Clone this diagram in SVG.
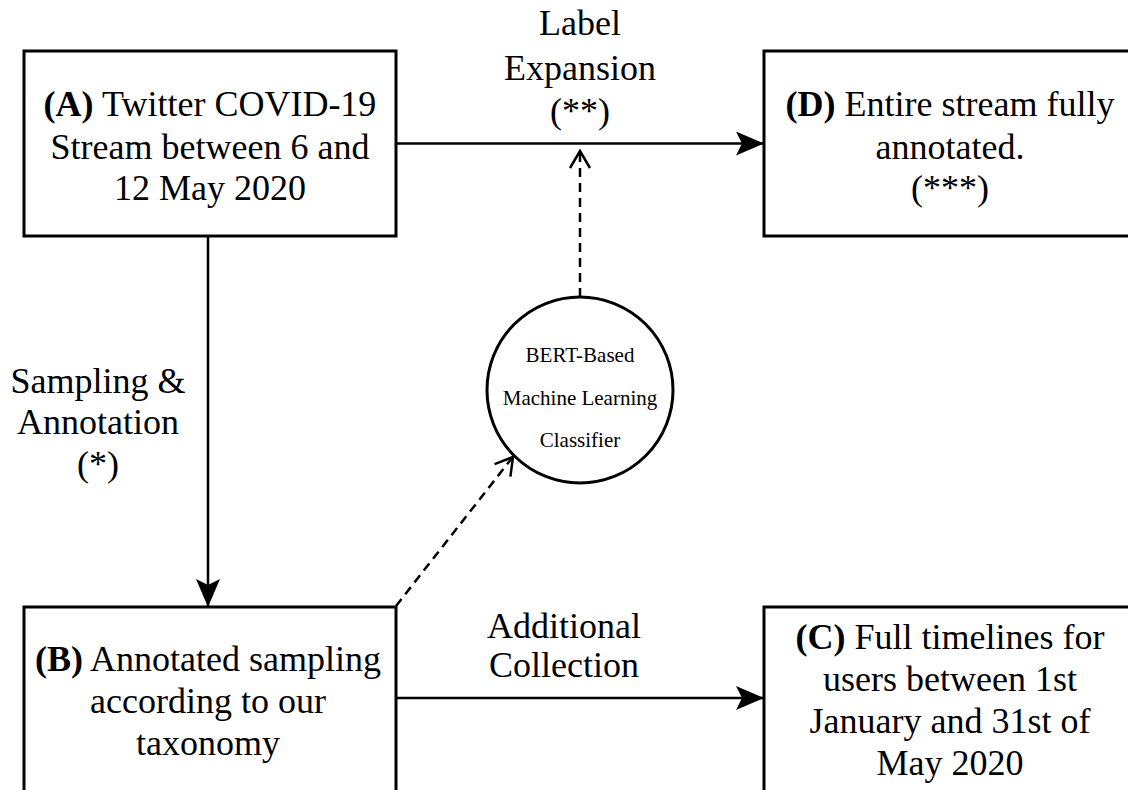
<svg xmlns="http://www.w3.org/2000/svg" width="1128" height="790" viewBox="0 0 1128 790">
<defs>
<style>
.box{fill:#fff;stroke:#000;stroke-width:3}
.t{font-family:"Liberation Serif","Times New Roman",serif;font-size:36px;fill:#000;text-anchor:middle}
.s{font-family:"Liberation Serif","Times New Roman",serif;font-size:21px;fill:#000;text-anchor:middle}
.b{font-weight:bold}
.ln{fill:none;stroke:#000;stroke-width:2.5}
.dash{fill:none;stroke:#000;stroke-width:2.5;stroke-dasharray:9 6}
.open{fill:none;stroke:#000;stroke-width:2.5}
</style>
<marker id="head" viewBox="0 0 28 24" refX="27" refY="12" markerWidth="28" markerHeight="24" markerUnits="userSpaceOnUse" orient="auto">
<path d="M0,0 L28,12 L0,24 L6,12 Z" fill="#000"/>
</marker>
</defs>
<rect width="1128" height="790" fill="#fff"/>
<g id="connectors">
<line class="ln" x1="396" y1="143.5" x2="763" y2="143.5" marker-end="url(#head)"/>
<line class="ln" x1="208" y1="236" x2="208" y2="606" marker-end="url(#head)"/>
<line class="ln" x1="396" y1="698" x2="763" y2="698" marker-end="url(#head)"/>
<line class="dash" x1="580" y1="297" x2="580" y2="152"/>
<path class="open" d="M570,168 L580,151 L590,168"/>
<line class="dash" x1="396" y1="606" x2="512" y2="458"/>
<path class="open" d="M494.6,464.2 L513,457 L510.4,476.6"/>
</g>
<g id="labels">
<text class="t" x="580" y="35">Label</text>
<text class="t" x="580" y="80">Expansion</text>
<text class="t" x="580" y="123">(**)</text>
<text class="t" x="98" y="393">Sampling &amp;</text>
<text class="t" x="98" y="434">Annotation</text>
<text class="t" x="98" y="476">(*)</text>
<text class="t" x="564" y="638">Additional</text>
<text class="t" x="564" y="677">Collection</text>
</g>
<g id="nodeA">
<rect class="box" x="24" y="51" width="372" height="185"/>
<text class="t" x="210" y="116"><tspan class="b">(A)</tspan> Twitter COVID-19</text>
<text class="t" x="210" y="159">Stream between 6 and</text>
<text class="t" x="210" y="200">12 May 2020</text>
</g>
<g id="nodeD">
<rect class="box" x="764" y="51" width="372" height="185"/>
<text class="t" x="950" y="116"><tspan class="b">(D)</tspan> Entire stream fully</text>
<text class="t" x="950" y="159">annotated.</text>
<text class="t" x="950" y="200">(***)</text>
</g>
<g id="nodeB">
<rect class="box" x="24" y="607" width="372" height="190"/>
<text class="t" x="208" y="671"><tspan class="b">(B)</tspan> Annotated sampling</text>
<text class="t" x="208" y="713">according to our</text>
<text class="t" x="208" y="755">taxonomy</text>
</g>
<g id="nodeC">
<rect class="box" x="764" y="607" width="372" height="190"/>
<text class="t" x="950" y="649"><tspan class="b">(C)</tspan> Full timelines for</text>
<text class="t" x="950" y="691">users between 1st</text>
<text class="t" x="950" y="733">January and 31st of</text>
<text class="t" x="950" y="775">May 2020</text>
</g>
<g id="classifier">
<circle cx="580" cy="390" r="93" fill="#fff" stroke="#000" stroke-width="3"/>
<text class="s" x="580" y="362">BERT-Based</text>
<text class="s" x="580" y="405">Machine Learning</text>
<text class="s" x="580" y="447">Classifier</text>
</g>
</svg>
